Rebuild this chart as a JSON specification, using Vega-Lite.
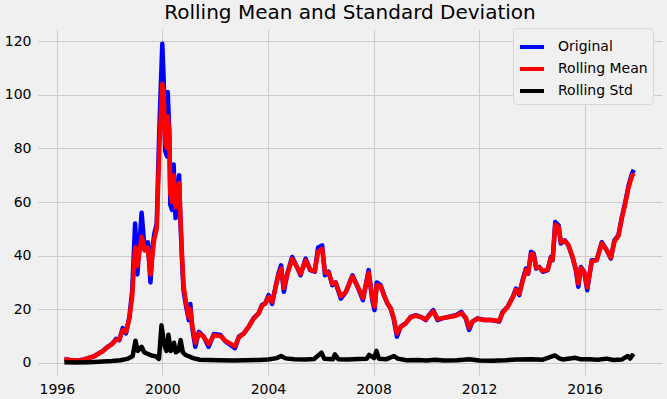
{
  "$schema": "https://vega.github.io/schema/vega-lite/v6.json",
  "autosize": {"type": "none"},
  "padding": {"left": 38, "top": 29, "right": 5, "bottom": 24},
  "width": 624,
  "height": 346,
  "background": "#f0f0f0",
  "title": {"text": "Rolling Mean and Standard Deviation", "fontSize": 20, "fontWeight": "normal", "font": "DejaVu Sans", "color": "#000000", "offset": 5, "anchor": "middle"},
  "config": {
    "view": {"stroke": null},
    "font": "DejaVu Sans",
    "axis": {"domain": false, "ticks": false, "gridColor": "#cbcbcb", "gridWidth": 1, "labelFont": "DejaVu Sans", "labelFontSize": 14, "labelColor": "#000000", "title": null}
  },
  "data": {"values": [
{"d":"1996-04-15","v":1.5,"s":"Original"},{"d":"1996-07-01","v":1.0,"s":"Original"},{"d":"1996-10-01","v":0.8,"s":"Original"},{"d":"1997-01-01","v":1.2,"s":"Original"},{"d":"1997-04-01","v":2.0,"s":"Original"},{"d":"1997-06-01","v":2.5,"s":"Original"},{"d":"1997-08-01","v":3.5,"s":"Original"},{"d":"1997-10-01","v":4.5,"s":"Original"},{"d":"1997-12-01","v":6.0,"s":"Original"},{"d":"1998-02-01","v":7.0,"s":"Original"},{"d":"1998-04-01","v":9.0,"s":"Original"},{"d":"1998-05-15","v":8.5,"s":"Original"},{"d":"1998-07-01","v":13,"s":"Original"},{"d":"1998-08-15","v":11,"s":"Original"},{"d":"1998-10-01","v":17,"s":"Original"},{"d":"1998-11-10","v":27,"s":"Original"},{"d":"1998-12-20","v":52,"s":"Original"},{"d":"1999-01-20","v":33,"s":"Original"},{"d":"1999-03-20","v":56,"s":"Original"},{"d":"1999-05-01","v":42,"s":"Original"},{"d":"1999-06-15","v":45,"s":"Original"},{"d":"1999-07-20","v":30,"s":"Original"},{"d":"1999-08-20","v":43,"s":"Original"},{"d":"1999-09-10","v":48,"s":"Original"},{"d":"1999-10-15","v":52,"s":"Original"},{"d":"1999-11-20","v":87,"s":"Original"},{"d":"1999-12-31","v":119,"s":"Original"},{"d":"2000-01-20","v":105,"s":"Original"},{"d":"2000-02-10","v":79,"s":"Original"},{"d":"2000-03-05","v":77,"s":"Original"},{"d":"2000-03-15","v":101,"s":"Original"},{"d":"2000-04-05","v":87,"s":"Original"},{"d":"2000-04-20","v":59,"s":"Original"},{"d":"2000-05-15","v":57,"s":"Original"},{"d":"2000-06-05","v":74,"s":"Original"},{"d":"2000-07-01","v":54,"s":"Original"},{"d":"2000-07-25","v":64,"s":"Original"},{"d":"2000-08-20","v":70,"s":"Original"},{"d":"2000-09-05","v":54,"s":"Original"},{"d":"2000-10-01","v":37,"s":"Original"},{"d":"2000-10-20","v":27,"s":"Original"},{"d":"2000-11-25","v":21,"s":"Original"},{"d":"2001-01-01","v":16,"s":"Original"},{"d":"2001-01-22","v":22,"s":"Original"},{"d":"2001-02-15","v":13.5,"s":"Original"},{"d":"2001-04-01","v":6,"s":"Original"},{"d":"2001-05-20","v":11.6,"s":"Original"},{"d":"2001-07-25","v":9.8,"s":"Original"},{"d":"2001-10-01","v":6,"s":"Original"},{"d":"2001-12-15","v":10.8,"s":"Original"},{"d":"2002-03-15","v":10.4,"s":"Original"},{"d":"2002-05-25","v":8,"s":"Original"},{"d":"2002-07-30","v":6.7,"s":"Original"},{"d":"2002-10-01","v":5.5,"s":"Original"},{"d":"2002-11-25","v":9.8,"s":"Original"},{"d":"2003-02-01","v":11,"s":"Original"},{"d":"2003-04-10","v":13.5,"s":"Original"},{"d":"2003-06-15","v":16.6,"s":"Original"},{"d":"2003-08-25","v":18.5,"s":"Original"},{"d":"2003-10-10","v":21.6,"s":"Original"},{"d":"2003-11-25","v":22.2,"s":"Original"},{"d":"2004-01-10","v":25.3,"s":"Original"},{"d":"2004-02-28","v":22,"s":"Original"},{"d":"2004-04-20","v":29,"s":"Original"},{"d":"2004-05-25","v":33.3,"s":"Original"},{"d":"2004-07-01","v":36.4,"s":"Original"},{"d":"2004-08-08","v":26.5,"s":"Original"},{"d":"2004-09-25","v":33.3,"s":"Original"},{"d":"2004-12-01","v":39.5,"s":"Original"},{"d":"2005-02-05","v":35.8,"s":"Original"},{"d":"2005-03-28","v":32.7,"s":"Original"},{"d":"2005-06-05","v":38.9,"s":"Original"},{"d":"2005-08-08","v":34.6,"s":"Original"},{"d":"2005-10-10","v":34,"s":"Original"},{"d":"2005-11-25","v":43,"s":"Original"},{"d":"2006-01-20","v":43.8,"s":"Original"},{"d":"2006-03-01","v":32.7,"s":"Original"},{"d":"2006-04-20","v":34,"s":"Original"},{"d":"2006-06-10","v":29,"s":"Original"},{"d":"2006-07-25","v":30,"s":"Original"},{"d":"2006-10-05","v":24,"s":"Original"},{"d":"2006-12-15","v":26.5,"s":"Original"},{"d":"2007-03-15","v":32.7,"s":"Original"},{"d":"2007-05-25","v":28.4,"s":"Original"},{"d":"2007-08-08","v":23.4,"s":"Original"},{"d":"2007-10-25","v":34.6,"s":"Original"},{"d":"2007-12-15","v":23.4,"s":"Original"},{"d":"2008-01-15","v":19.7,"s":"Original"},{"d":"2008-02-15","v":30,"s":"Original"},{"d":"2008-04-08","v":29,"s":"Original"},{"d":"2008-05-25","v":25.3,"s":"Original"},{"d":"2008-07-10","v":22.2,"s":"Original"},{"d":"2008-08-25","v":20.3,"s":"Original"},{"d":"2008-10-05","v":16.6,"s":"Original"},{"d":"2008-11-20","v":9.8,"s":"Original"},{"d":"2009-01-10","v":13.5,"s":"Original"},{"d":"2009-03-20","v":14.7,"s":"Original"},{"d":"2009-05-30","v":17.2,"s":"Original"},{"d":"2009-08-08","v":17.8,"s":"Original"},{"d":"2009-10-15","v":17.2,"s":"Original"},{"d":"2009-12-25","v":16,"s":"Original"},{"d":"2010-02-05","v":17.8,"s":"Original"},{"d":"2010-04-08","v":19.7,"s":"Original"},{"d":"2010-06-05","v":16,"s":"Original"},{"d":"2010-08-08","v":16.6,"s":"Original"},{"d":"2010-11-10","v":17.2,"s":"Original"},{"d":"2011-02-15","v":17.8,"s":"Original"},{"d":"2011-05-01","v":19,"s":"Original"},{"d":"2011-07-01","v":16.6,"s":"Original"},{"d":"2011-08-15","v":12.3,"s":"Original"},{"d":"2011-10-01","v":15.4,"s":"Original"},{"d":"2011-12-10","v":16.6,"s":"Original"},{"d":"2012-03-15","v":16,"s":"Original"},{"d":"2012-06-15","v":16,"s":"Original"},{"d":"2012-10-05","v":15.4,"s":"Original"},{"d":"2012-11-20","v":19,"s":"Original"},{"d":"2013-02-01","v":21,"s":"Original"},{"d":"2013-04-10","v":24.6,"s":"Original"},{"d":"2013-05-25","v":27.7,"s":"Original"},{"d":"2013-07-10","v":25.3,"s":"Original"},{"d":"2013-08-25","v":30.9,"s":"Original"},{"d":"2013-10-10","v":35.2,"s":"Original"},{"d":"2013-11-10","v":33.3,"s":"Original"},{"d":"2013-12-20","v":41.4,"s":"Original"},{"d":"2014-01-25","v":40.8,"s":"Original"},{"d":"2014-03-01","v":35.2,"s":"Original"},{"d":"2014-04-12","v":35.8,"s":"Original"},{"d":"2014-05-30","v":34,"s":"Original"},{"d":"2014-08-08","v":34.6,"s":"Original"},{"d":"2014-09-20","v":39.5,"s":"Original"},{"d":"2014-10-15","v":38.3,"s":"Original"},{"d":"2014-11-20","v":52.5,"s":"Original"},{"d":"2015-01-05","v":51.3,"s":"Original"},{"d":"2015-02-05","v":44.5,"s":"Original"},{"d":"2015-04-01","v":45.7,"s":"Original"},{"d":"2015-05-20","v":43.9,"s":"Original"},{"d":"2015-07-15","v":39.5,"s":"Original"},{"d":"2015-09-01","v":34.6,"s":"Original"},{"d":"2015-10-05","v":28.4,"s":"Original"},{"d":"2015-11-10","v":35.8,"s":"Original"},{"d":"2015-12-25","v":34,"s":"Original"},{"d":"2016-02-05","v":27.1,"s":"Original"},{"d":"2016-04-08","v":38.3,"s":"Original"},{"d":"2016-06-15","v":38.3,"s":"Original"},{"d":"2016-08-25","v":45,"s":"Original"},{"d":"2016-11-01","v":42,"s":"Original"},{"d":"2016-12-28","v":38.9,"s":"Original"},{"d":"2017-02-15","v":45.7,"s":"Original"},{"d":"2017-04-12","v":47.6,"s":"Original"},{"d":"2017-05-30","v":54.4,"s":"Original"},{"d":"2017-07-12","v":59.4,"s":"Original"},{"d":"2017-08-30","v":66,"s":"Original"},{"d":"2017-10-15","v":70.5,"s":"Original"},{"d":"2017-11-10","v":72,"s":"Original"},
{"d":"1996-04-15","v":1.5,"s":"Rolling Mean"},{"d":"1996-07-01","v":1.1,"s":"Rolling Mean"},{"d":"1996-10-01","v":0.9,"s":"Rolling Mean"},{"d":"1997-01-01","v":1.2,"s":"Rolling Mean"},{"d":"1997-04-01","v":2.0,"s":"Rolling Mean"},{"d":"1997-06-01","v":2.5,"s":"Rolling Mean"},{"d":"1997-08-01","v":3.4,"s":"Rolling Mean"},{"d":"1997-10-01","v":4.4,"s":"Rolling Mean"},{"d":"1997-12-01","v":5.8,"s":"Rolling Mean"},{"d":"1998-02-01","v":7.0,"s":"Rolling Mean"},{"d":"1998-04-01","v":8.6,"s":"Rolling Mean"},{"d":"1998-05-15","v":8.8,"s":"Rolling Mean"},{"d":"1998-07-01","v":12.2,"s":"Rolling Mean"},{"d":"1998-08-15","v":11.6,"s":"Rolling Mean"},{"d":"1998-10-01","v":16.5,"s":"Rolling Mean"},{"d":"1998-11-10","v":25,"s":"Rolling Mean"},{"d":"1998-12-20","v":43,"s":"Rolling Mean"},{"d":"1999-01-20","v":36,"s":"Rolling Mean"},{"d":"1999-03-20","v":47,"s":"Rolling Mean"},{"d":"1999-05-01","v":42,"s":"Rolling Mean"},{"d":"1999-06-15","v":43,"s":"Rolling Mean"},{"d":"1999-07-20","v":33,"s":"Rolling Mean"},{"d":"1999-08-20","v":41,"s":"Rolling Mean"},{"d":"1999-09-10","v":46,"s":"Rolling Mean"},{"d":"1999-10-15","v":50,"s":"Rolling Mean"},{"d":"1999-11-20","v":80,"s":"Rolling Mean"},{"d":"1999-12-31","v":104,"s":"Rolling Mean"},{"d":"2000-01-20","v":100,"s":"Rolling Mean"},{"d":"2000-02-10","v":82,"s":"Rolling Mean"},{"d":"2000-03-05","v":80,"s":"Rolling Mean"},{"d":"2000-03-15","v":92,"s":"Rolling Mean"},{"d":"2000-04-05","v":86,"s":"Rolling Mean"},{"d":"2000-04-20","v":63,"s":"Rolling Mean"},{"d":"2000-05-15","v":60,"s":"Rolling Mean"},{"d":"2000-06-05","v":70,"s":"Rolling Mean"},{"d":"2000-07-01","v":58,"s":"Rolling Mean"},{"d":"2000-07-25","v":63,"s":"Rolling Mean"},{"d":"2000-08-20","v":67,"s":"Rolling Mean"},{"d":"2000-09-05","v":56,"s":"Rolling Mean"},{"d":"2000-10-01","v":39,"s":"Rolling Mean"},{"d":"2000-10-20","v":29,"s":"Rolling Mean"},{"d":"2000-11-25","v":22,"s":"Rolling Mean"},{"d":"2001-01-01","v":17,"s":"Rolling Mean"},{"d":"2001-01-22","v":20,"s":"Rolling Mean"},{"d":"2001-02-15","v":14.5,"s":"Rolling Mean"},{"d":"2001-04-01","v":7.5,"s":"Rolling Mean"},{"d":"2001-05-20","v":11,"s":"Rolling Mean"},{"d":"2001-07-25","v":9.8,"s":"Rolling Mean"},{"d":"2001-10-01","v":7,"s":"Rolling Mean"},{"d":"2001-12-15","v":10.3,"s":"Rolling Mean"},{"d":"2002-03-15","v":10,"s":"Rolling Mean"},{"d":"2002-05-25","v":8.2,"s":"Rolling Mean"},{"d":"2002-07-30","v":7.2,"s":"Rolling Mean"},{"d":"2002-10-01","v":6.2,"s":"Rolling Mean"},{"d":"2002-11-25","v":9.5,"s":"Rolling Mean"},{"d":"2003-02-01","v":11,"s":"Rolling Mean"},{"d":"2003-04-10","v":13.5,"s":"Rolling Mean"},{"d":"2003-06-15","v":16.4,"s":"Rolling Mean"},{"d":"2003-08-25","v":18.5,"s":"Rolling Mean"},{"d":"2003-10-10","v":21.2,"s":"Rolling Mean"},{"d":"2003-11-25","v":22.2,"s":"Rolling Mean"},{"d":"2004-01-10","v":24.6,"s":"Rolling Mean"},{"d":"2004-02-28","v":22.8,"s":"Rolling Mean"},{"d":"2004-04-20","v":28.6,"s":"Rolling Mean"},{"d":"2004-05-25","v":32.8,"s":"Rolling Mean"},{"d":"2004-07-01","v":35.2,"s":"Rolling Mean"},{"d":"2004-08-08","v":28,"s":"Rolling Mean"},{"d":"2004-09-25","v":33,"s":"Rolling Mean"},{"d":"2004-12-01","v":38.8,"s":"Rolling Mean"},{"d":"2005-02-05","v":35.8,"s":"Rolling Mean"},{"d":"2005-03-28","v":33.2,"s":"Rolling Mean"},{"d":"2005-06-05","v":38.2,"s":"Rolling Mean"},{"d":"2005-08-08","v":34.8,"s":"Rolling Mean"},{"d":"2005-10-10","v":34.2,"s":"Rolling Mean"},{"d":"2005-11-25","v":41.5,"s":"Rolling Mean"},{"d":"2006-01-20","v":42.5,"s":"Rolling Mean"},{"d":"2006-03-01","v":33.6,"s":"Rolling Mean"},{"d":"2006-04-20","v":33.6,"s":"Rolling Mean"},{"d":"2006-06-10","v":29.5,"s":"Rolling Mean"},{"d":"2006-07-25","v":30,"s":"Rolling Mean"},{"d":"2006-10-05","v":24.8,"s":"Rolling Mean"},{"d":"2006-12-15","v":26.5,"s":"Rolling Mean"},{"d":"2007-03-15","v":32.2,"s":"Rolling Mean"},{"d":"2007-05-25","v":28.6,"s":"Rolling Mean"},{"d":"2007-08-08","v":24.2,"s":"Rolling Mean"},{"d":"2007-10-25","v":33.6,"s":"Rolling Mean"},{"d":"2007-12-15","v":24.4,"s":"Rolling Mean"},{"d":"2008-01-15","v":21,"s":"Rolling Mean"},{"d":"2008-02-15","v":29,"s":"Rolling Mean"},{"d":"2008-04-08","v":28.6,"s":"Rolling Mean"},{"d":"2008-05-25","v":25.3,"s":"Rolling Mean"},{"d":"2008-07-10","v":22.4,"s":"Rolling Mean"},{"d":"2008-08-25","v":20.3,"s":"Rolling Mean"},{"d":"2008-10-05","v":17,"s":"Rolling Mean"},{"d":"2008-11-20","v":11,"s":"Rolling Mean"},{"d":"2009-01-10","v":13.3,"s":"Rolling Mean"},{"d":"2009-03-20","v":14.8,"s":"Rolling Mean"},{"d":"2009-05-30","v":17,"s":"Rolling Mean"},{"d":"2009-08-08","v":17.6,"s":"Rolling Mean"},{"d":"2009-10-15","v":17.1,"s":"Rolling Mean"},{"d":"2009-12-25","v":16.2,"s":"Rolling Mean"},{"d":"2010-02-05","v":17.6,"s":"Rolling Mean"},{"d":"2010-04-08","v":19.2,"s":"Rolling Mean"},{"d":"2010-06-05","v":16.4,"s":"Rolling Mean"},{"d":"2010-08-08","v":16.7,"s":"Rolling Mean"},{"d":"2010-11-10","v":17.1,"s":"Rolling Mean"},{"d":"2011-02-15","v":17.6,"s":"Rolling Mean"},{"d":"2011-05-01","v":18.6,"s":"Rolling Mean"},{"d":"2011-07-01","v":16.8,"s":"Rolling Mean"},{"d":"2011-08-15","v":13.2,"s":"Rolling Mean"},{"d":"2011-10-01","v":15.4,"s":"Rolling Mean"},{"d":"2011-12-10","v":16.5,"s":"Rolling Mean"},{"d":"2012-03-15","v":16,"s":"Rolling Mean"},{"d":"2012-06-15","v":16,"s":"Rolling Mean"},{"d":"2012-10-05","v":15.6,"s":"Rolling Mean"},{"d":"2012-11-20","v":18.6,"s":"Rolling Mean"},{"d":"2013-02-01","v":21,"s":"Rolling Mean"},{"d":"2013-04-10","v":24.4,"s":"Rolling Mean"},{"d":"2013-05-25","v":27.2,"s":"Rolling Mean"},{"d":"2013-07-10","v":25.8,"s":"Rolling Mean"},{"d":"2013-08-25","v":30.4,"s":"Rolling Mean"},{"d":"2013-10-10","v":34.6,"s":"Rolling Mean"},{"d":"2013-11-10","v":33.6,"s":"Rolling Mean"},{"d":"2013-12-20","v":40.6,"s":"Rolling Mean"},{"d":"2014-01-25","v":40.4,"s":"Rolling Mean"},{"d":"2014-03-01","v":35.6,"s":"Rolling Mean"},{"d":"2014-04-12","v":35.6,"s":"Rolling Mean"},{"d":"2014-05-30","v":34.3,"s":"Rolling Mean"},{"d":"2014-08-08","v":34.8,"s":"Rolling Mean"},{"d":"2014-09-20","v":39.2,"s":"Rolling Mean"},{"d":"2014-10-15","v":38.6,"s":"Rolling Mean"},{"d":"2014-11-20","v":51.5,"s":"Rolling Mean"},{"d":"2015-01-05","v":50.6,"s":"Rolling Mean"},{"d":"2015-02-05","v":45,"s":"Rolling Mean"},{"d":"2015-04-01","v":45.5,"s":"Rolling Mean"},{"d":"2015-05-20","v":44,"s":"Rolling Mean"},{"d":"2015-07-15","v":39.8,"s":"Rolling Mean"},{"d":"2015-09-01","v":35,"s":"Rolling Mean"},{"d":"2015-10-05","v":29.6,"s":"Rolling Mean"},{"d":"2015-11-10","v":35.4,"s":"Rolling Mean"},{"d":"2015-12-25","v":33.8,"s":"Rolling Mean"},{"d":"2016-02-05","v":28.2,"s":"Rolling Mean"},{"d":"2016-04-08","v":37.8,"s":"Rolling Mean"},{"d":"2016-06-15","v":38.4,"s":"Rolling Mean"},{"d":"2016-08-25","v":44.6,"s":"Rolling Mean"},{"d":"2016-11-01","v":42,"s":"Rolling Mean"},{"d":"2016-12-28","v":39.2,"s":"Rolling Mean"},{"d":"2017-02-15","v":45.2,"s":"Rolling Mean"},{"d":"2017-04-12","v":47.4,"s":"Rolling Mean"},{"d":"2017-05-30","v":54,"s":"Rolling Mean"},{"d":"2017-07-12","v":59,"s":"Rolling Mean"},{"d":"2017-08-30","v":65.4,"s":"Rolling Mean"},{"d":"2017-10-15","v":69.6,"s":"Rolling Mean"},{"d":"2017-11-10","v":70.6,"s":"Rolling Mean"},
{"d":"1996-04-15","v":0.3,"s":"Rolling Std"},{"d":"1996-10-01","v":0.2,"s":"Rolling Std"},{"d":"1997-04-01","v":0.3,"s":"Rolling Std"},{"d":"1997-10-01","v":0.5,"s":"Rolling Std"},{"d":"1998-02-01","v":0.7,"s":"Rolling Std"},{"d":"1998-06-01","v":1.0,"s":"Rolling Std"},{"d":"1998-09-01","v":1.5,"s":"Rolling Std"},{"d":"1998-11-15","v":2.5,"s":"Rolling Std"},{"d":"1998-12-25","v":8.3,"s":"Rolling Std"},{"d":"1999-01-25","v":4.5,"s":"Rolling Std"},{"d":"1999-03-20","v":6,"s":"Rolling Std"},{"d":"1999-04-25","v":4,"s":"Rolling Std"},{"d":"1999-06-01","v":3.5,"s":"Rolling Std"},{"d":"1999-08-01","v":2.8,"s":"Rolling Std"},{"d":"1999-10-01","v":2.5,"s":"Rolling Std"},{"d":"1999-11-15","v":1.5,"s":"Rolling Std"},{"d":"1999-12-20","v":14,"s":"Rolling Std"},{"d":"2000-01-25","v":7,"s":"Rolling Std"},{"d":"2000-02-25","v":4.5,"s":"Rolling Std"},{"d":"2000-03-25","v":10.5,"s":"Rolling Std"},{"d":"2000-04-25","v":4.5,"s":"Rolling Std"},{"d":"2000-05-20","v":5,"s":"Rolling Std"},{"d":"2000-06-10","v":7.5,"s":"Rolling Std"},{"d":"2000-07-05","v":4,"s":"Rolling Std"},{"d":"2000-08-10","v":4.5,"s":"Rolling Std"},{"d":"2000-09-10","v":8.5,"s":"Rolling Std"},{"d":"2000-10-10","v":4,"s":"Rolling Std"},{"d":"2000-11-15","v":3,"s":"Rolling Std"},{"d":"2001-01-01","v":2.5,"s":"Rolling Std"},{"d":"2001-03-01","v":1.8,"s":"Rolling Std"},{"d":"2001-06-01","v":1.2,"s":"Rolling Std"},{"d":"2001-10-01","v":1.1,"s":"Rolling Std"},{"d":"2002-03-01","v":1.0,"s":"Rolling Std"},{"d":"2002-09-01","v":0.9,"s":"Rolling Std"},{"d":"2003-03-01","v":1.0,"s":"Rolling Std"},{"d":"2003-09-01","v":1.1,"s":"Rolling Std"},{"d":"2004-01-01","v":1.3,"s":"Rolling Std"},{"d":"2004-05-01","v":1.8,"s":"Rolling Std"},{"d":"2004-07-01","v":2.6,"s":"Rolling Std"},{"d":"2004-09-01","v":1.7,"s":"Rolling Std"},{"d":"2005-01-01","v":1.4,"s":"Rolling Std"},{"d":"2005-06-01","v":1.3,"s":"Rolling Std"},{"d":"2005-10-01","v":1.5,"s":"Rolling Std"},{"d":"2006-01-10","v":3.8,"s":"Rolling Std"},{"d":"2006-02-20","v":1.6,"s":"Rolling Std"},{"d":"2006-06-20","v":1.4,"s":"Rolling Std"},{"d":"2006-07-15","v":3.2,"s":"Rolling Std"},{"d":"2006-09-01","v":1.4,"s":"Rolling Std"},{"d":"2007-01-01","v":1.3,"s":"Rolling Std"},{"d":"2007-06-01","v":1.5,"s":"Rolling Std"},{"d":"2007-10-01","v":1.6,"s":"Rolling Std"},{"d":"2007-11-01","v":3.0,"s":"Rolling Std"},{"d":"2008-01-10","v":1.8,"s":"Rolling Std"},{"d":"2008-02-10","v":4.5,"s":"Rolling Std"},{"d":"2008-03-15","v":1.6,"s":"Rolling Std"},{"d":"2008-07-01","v":1.4,"s":"Rolling Std"},{"d":"2008-10-10","v":2.6,"s":"Rolling Std"},{"d":"2008-12-01","v":1.6,"s":"Rolling Std"},{"d":"2009-04-01","v":1.0,"s":"Rolling Std"},{"d":"2009-09-01","v":1.1,"s":"Rolling Std"},{"d":"2010-01-01","v":0.9,"s":"Rolling Std"},{"d":"2010-05-01","v":1.2,"s":"Rolling Std"},{"d":"2010-09-01","v":0.9,"s":"Rolling Std"},{"d":"2011-03-01","v":1.0,"s":"Rolling Std"},{"d":"2011-08-20","v":1.4,"s":"Rolling Std"},{"d":"2012-01-01","v":0.9,"s":"Rolling Std"},{"d":"2012-07-01","v":0.8,"s":"Rolling Std"},{"d":"2013-01-01","v":1.0,"s":"Rolling Std"},{"d":"2013-06-01","v":1.3,"s":"Rolling Std"},{"d":"2014-01-01","v":1.4,"s":"Rolling Std"},{"d":"2014-06-01","v":1.2,"s":"Rolling Std"},{"d":"2014-11-15","v":2.8,"s":"Rolling Std"},{"d":"2015-01-15","v":1.7,"s":"Rolling Std"},{"d":"2015-03-01","v":1.3,"s":"Rolling Std"},{"d":"2015-08-25","v":1.9,"s":"Rolling Std"},{"d":"2015-11-01","v":1.4,"s":"Rolling Std"},{"d":"2016-03-01","v":1.4,"s":"Rolling Std"},{"d":"2016-07-01","v":1.2,"s":"Rolling Std"},{"d":"2016-11-01","v":1.6,"s":"Rolling Std"},{"d":"2017-02-01","v":1.1,"s":"Rolling Std"},{"d":"2017-06-01","v":1.3,"s":"Rolling Std"},{"d":"2017-08-20","v":2.6,"s":"Rolling Std"},{"d":"2017-09-20","v":1.6,"s":"Rolling Std"},{"d":"2017-10-20","v":2.8,"s":"Rolling Std"},{"d":"2017-11-10","v":2.2,"s":"Rolling Std"}
  ]},
  "mark": {"type": "line", "strokeWidth": 4.5, "strokeJoin": "round"},
  "encoding": {
    "x": {"field": "d", "type": "temporal",
      "scale": {"domain": ["1995-04-16", "2018-12-06"]},
      "axis": {"values": [{"year": 1996}, {"year": 2000}, {"year": 2004}, {"year": 2008}, {"year": 2012}, {"year": 2016}], "format": "%Y", "labelPadding": 7, "labelFlush": false, "labelOverlap": false}},
    "y": {"field": "v", "type": "quantitative",
      "scale": {"domain": [-4.5, 124.5], "nice": false, "zero": false},
      "axis": {"values": [0, 20, 40, 60, 80, 100, 120], "labelPadding": 7}},
    "color": {"field": "s", "type": "nominal",
      "scale": {"domain": ["Original", "Rolling Mean", "Rolling Std"], "range": ["#0000ff", "#ff0000", "#000000"]},
      "legend": {"title": null, "orient": "none", "legendX": 475, "legendY": -1, "fillColor": "#f0f0f0", "strokeColor": "#d8d8d8", "cornerRadius": 4, "padding": 5, "rowPadding": -3, "symbolType": "stroke", "symbolStrokeWidth": 4, "symbolSize": 576, "labelFont": "DejaVu Sans", "labelFontSize": 14, "labelColor": "#000000", "labelOffset": 12}
    }
  }
}
